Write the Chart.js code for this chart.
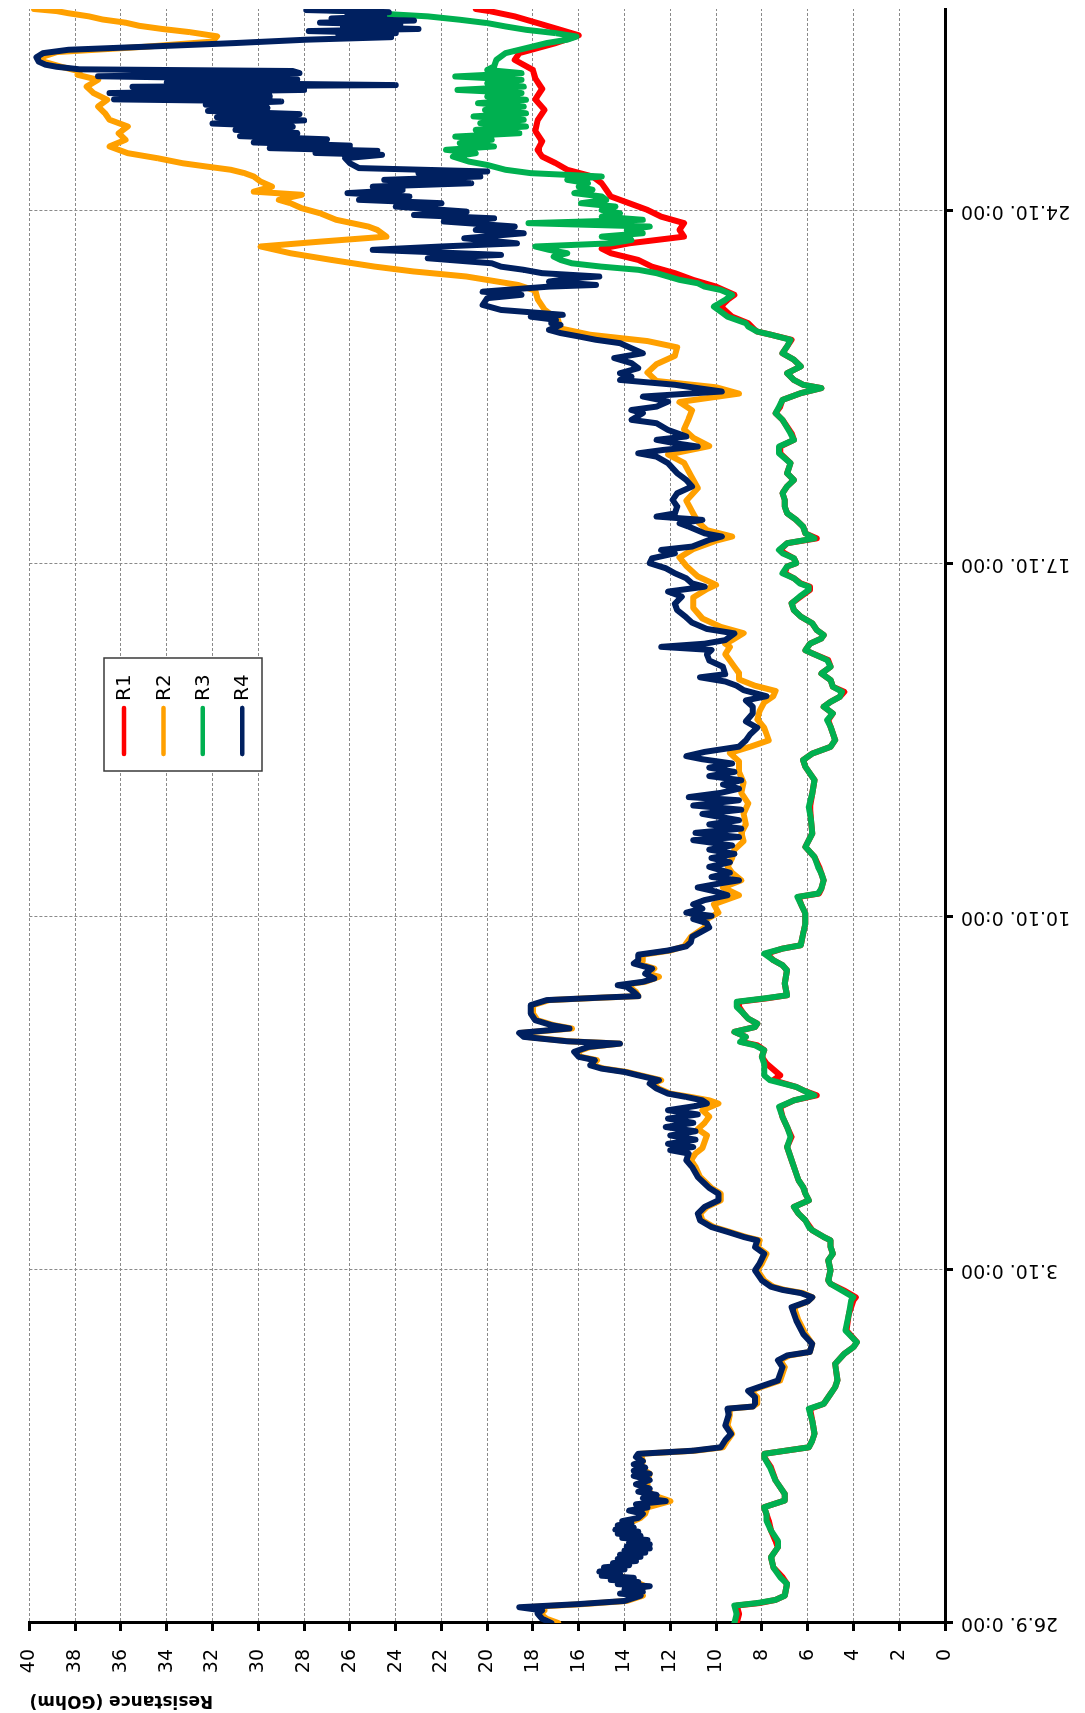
<!DOCTYPE html>
<html>
<head>
<meta charset="utf-8">
<title>Resistance R1–R4</title>
<script src="https://cdn.jsdelivr.net/npm/chart.js@4.4.1/dist/chart.umd.min.js"></script>
<style>
  html, body { margin: 0; padding: 0; background: #fff; overflow: hidden; width: 1085px; height: 1713px; }
  /* the chart is laid out landscape and turned a quarter turn counter-clockwise */
  #frame { position: absolute; left: 0; top: 0; width: 1713px; height: 1085px;
           transform-origin: 0 0; transform: translate(0px, 1713px) rotate(-90deg); }
  canvas { display: block; }
</style>
</head>
<body>
<div id="frame"><canvas id="chart" width="1713" height="1085" style="width:1713px;height:1085px"></canvas></div>
<script>
// Time axis: hours since 26.9. 0:00
const TICK_HOURS  = [0, 168, 336, 504, 672];
const TICK_LABELS = ['26.9. 0:00', '3.10. 0:00', '10.10. 0:00', '17.10. 0:00', '24.10. 0:00'];
const SERIES_NAMES = ['R1', 'R2', 'R3', 'R4'];
const SERIES_COLORS = ['#ff0000', '#ffa000', '#00b050', '#002060'];

// [hour, resistance in GOhm]
const R1 = [
  [0,9.1],[4.3,9.0],[8.3,9.1],[9.5,8.1],[11,7.4],[13,7.0],[18.6,6.9],[21.8,7.1],[26.5,7.5],[31.3,7.6],[36,7.3],[39,7.4],[44,7.6],[48.7,7.7],[51.9,7.8],[55.1,7.9],[58.3,7.0],[61.4,7.0],[67.8,7.4],[74.1,7.6],[78.9,7.9],[80.5,7.9],[83.6,5.95],[86.8,5.8],[90,5.7],[96.3,5.8],[101.9,5.9],[104.3,5.3],[109,5.0],[112.2,4.8],[115.4,4.7],[123.3,4.8],[128.1,4.4],[131.3,4.0],[133.6,3.85],[139.2,4.3],[147.1,4.2],[153.5,4.0],[155,3.9],[158.2,4.4],[161.4,5.0],[163,5.1],
  [167.8,5.0],[172.6,5.1],[175.7,4.9],[178.9,5.0],[182.1,5.0],[183.7,5.3],[186.9,5.8],[188.4,5.9],[191.6,6.1],[194.8,6.4],[198,6.6],[201.1,5.95],[204.3,6.1],[207.5,6.2],[210.7,6.4],[213.8,6.5],[220.2,6.7],[226.5,6.9],[231.3,6.7],[236.1,6.9],[240.8,7.1],[245.6,7.2],[248.7,6.6],[251.1,5.6],[253.5,6.2],[255.1,6.5],[258.3,7.5],[260.6,7.2],[266.2,7.8],[269.4,8.0],[272.6,7.9],[274.9,8.2],[276.5,8.9],[278.9,8.7],[281.3,9.2],[283.6,8.3],[285.2,8.2],[287.6,8.6],[290,8.8],[293.2,9.0],[295.6,9.0],[297.2,7.8],[298.7,6.9],[304.3,7.0],[310.6,6.9],[313,7.1],[315.4,7.5],
  [318.5,7.8],[320.9,7.1],[322.5,6.3],[328,6.2],[332.8,6.1],[337.6,6.1],[342.3,6.3],[345.5,6.4],[347.1,5.5],[349.5,5.4],[353.4,5.3],[356.6,5.4],[359.8,5.5],[364.5,5.7],[369.3,6.1],[375.7,5.8],[382,5.85],[388.4,5.9],[394.7,5.8],[401.1,5.7],[407.4,6.1],[410.6,6.2],[413.7,5.8],[416.9,5.0],[420.1,4.8],[423.3,4.9],[426.4,5.0],[429.6,5.1],[432.8,4.9],[436,5.3],[438.3,5.0],[440.7,4.6],[443.1,4.4],[445.5,4.9],[448.7,5.0],[451.8,5.4],[455,5.0],[458.2,5.1],[461.4,5.8],[462.9,6.1],[466,5.9],
  [468.5,5.4],[470.1,5.3],[472.5,5.6],[475.7,5.8],[478.9,6.3],[482,6.6],[485.2,6.7],[488.4,6.3],[491.6,5.9],[493.1,5.9],[494.7,6.3],[497.1,6.6],[499.5,7.0],[502.7,6.9],[504.3,6.5],[506.6,6.6],[509,7.0],[510.6,7.2],[513.8,6.9],[516.1,5.6],[518.5,6.1],[521.7,6.2],[524.9,6.5],[528.1,6.9],[531.2,7.0],[534.4,7.0],[537.6,7.1],[540.8,6.9],[543.9,6.6],[547.1,6.9],[551.9,6.75],[556.6,7.2],[559.8,7.2],[563,6.6],[566.1,6.7],[572.5,7.1],[575.7,7.4],[578.8,7.2],[582,7.1],[585.2,6.3],[587.6,5.4],[589.2,6.2],[591.5,6.6],[594.7,6.9],[597.9,6.3],[601.1,6.6],[604.2,7.1],[607.4,6.9],[610.6,6.7],[613,7.6],[614.5,8.2],
  [615.3,8.3],[618.5,8.6],[621.6,9.3],[626.4,9.8],[629.6,9.5],[632,9.2],[635.9,10.0],[639.1,11.0],[642.3,11.8],[645.4,12.8],[648.6,13.4],[651.8,14.6],[654,15.0],[656.5,13.8],[659.7,11.4],[662.9,11.6],[666.1,11.4],[669.2,12.4],[672.4,13.0],[675.6,13.8],[678.8,14.6],[682,14.8],[685.1,15.0],[688.3,15.4],[691.5,16.5],[694.6,17.0],[697.8,17.6],[701,17.8],[705,17.6],[710,17.9],[715,17.8],[720,17.5],[725,17.9],[730,17.6],[735,17.9],[739,18.0],[743.8,18.8],[747,18.6],[751.8,17.0],[755.5,16.0],[758.1,16.8],[761.3,17.8],[764.5,18.8],[767,19.9],[768,20.5]
];

const R2 = [
  [0,16.9],[2,17.4],[4.5,17.7],[6,17.5],[7.5,18.3],[9,15.8],[10.5,13.9],[13,13.2],[15,13.4],[17.5,13.1],[20,13.6],[22.5,14.2],[25,14.3],[27.5,14.0],[30,13.8],[32.5,13.6],[35,13.3],[37.5,13.2],[40,13.4],[42.5,13.7],[45,13.8],[47.5,13.8],[50,13.3],[52,13.1],[55,13.0],[58,12.0],[61,12.8],[64,13.0],[68,13.0],[71,12.9],[74,13.3],[77,13.2],[80.5,13.3],[82,10.9],[83.6,9.7],[87,9.5],[90,9.3],[94,9.5],[99,9.4],[102,9.4],[103,8.4],[104.5,8.2],[107.5,8.2],[110.5,8.5],[112,8.1],[115.4,7.2],[121.7,7.0],[125,7.2],[127.3,6.8],[129,5.9],[132.8,5.8],[137.6,6.1],[144,6.4],[150.3,6.6],[153,6.0],[155,5.8],[157,6.2],[158.5,7.0],[160,7.5],[163,7.9],
  [167.8,8.2],[171,8.0],[175.7,7.8],[178.9,8.2],[182.1,8.1],[183.7,8.7],[186.1,9.4],[188.4,10.1],[191.6,10.6],[194.8,10.7],[198,10.4],[201.1,9.8],[204.3,9.8],[207,10.2],[209.1,10.4],[212.2,10.7],[217,10.9],[220.2,11.1],[223.4,10.9],[226,10.6],[229,10.5],[232,10.4],[235,10.8],[238,10.5],[241,10.3],[244,10.6],[247.2,9.9],[248.7,10.3],[250.3,11.1],[251.9,12.0],[254.3,12.5],[256.7,12.8],[258.3,12.4],[260.6,13.3],[262.2,13.9],[263.8,14.9],[265.4,15.4],[267.8,15.2],[269.4,15.9],[271.8,16.1],[274.1,15.5],[275.7,14.2],[276.8,16.4],[278.9,18.3],[280.8,18.5],[282.9,16.3],[284.5,17.1],[286.8,17.8],[290,18.0],[294,18.0],[296.4,17.3],[297.6,14.9],[298.3,13.4],[300.3,13.5],[302.7,13.8],[303.5,14.1],[305.1,13.1],[307.5,12.5],[309,13.0],[311.4,12.7],[313.8,13.4],
  [315.4,13.2],[318,13.2],[320,12.0],[322,11.4],[326.5,11.1],[331,10.5],[335,10.4],[338,9.9],[342,10.1],[346.3,9.0],[350,9.7],[353.4,8.9],[357,9.3],[360,9.5],[364,9.3],[368,9.2],[372,8.8],[376,8.9],[380,8.7],[385,8.8],[390,8.6],[395,8.9],[400,8.8],[405,9.0],[410,9.0],[414,9.4],[417,8.5],[420,7.7],[423,7.8],[426,7.9],[430,8.2],[434,8.1],[438,7.9],[441,7.5],[443.5,7.4],[446,8.3],[449,9.0],[452,9.0],[455,9.2],[458,9.4],[461,9.6],[464.5,9.4],[466,9.6],
  [467.7,9.3],[471,8.8],[474,9.8],[478,10.6],[483,11.0],[488,11.0],[492,10.4],[494,10.0],[498,10.8],[503,11.3],[507,11.6],[511,11.0],[515,10.0],[517,9.3],[520,10.4],[524,10.8],[528,11.0],[534,11.3],[540,10.8],[546,11.1],[552,11.4],[556,12.1],[560,10.3],[564,11.0],[568,11.4],[573,11.2],[577,11.05],[581,11.6],[585,9.0],[588,10.0],[591,12.6],[595,13.0],[599,12.6],[603,11.8],[607,11.7],[610,13.0],[613,15.5],[616,16.8],
  [620,16.9],[625,17.5],[630,17.8],[634,17.9],[636.7,18.65],[640.7,20.9],[643.1,23.2],[645.4,24.9],[648.6,26.8],[651.8,28.6],[655,29.9],[657.3,27.3],[659.7,24.4],[662.9,24.8],[664.5,25.2],[667.7,26.6],[670.8,27.3],[673.2,28.1],[675.6,28.6],[677.2,29.1],[679.6,28.1],[681.1,30.2],[683.5,29.4],[685.9,29.9],[688.3,30.2],[689.9,30.6],[691.5,31.2],[693.1,32.3],[694.6,33.3],[697,34.4],[699.4,35.7],[702.6,36.5],[705.8,35.8],[708.9,36.1],[712.1,35.7],[715.3,36.5],[718.4,36.7],[721.6,37.0],[724.8,36.6],[728,37.2],[731.1,37.5],[734.3,37.0],[736.7,37.9],[738.3,37.8],[740.5,38.6],[743,39.4],[745,39.5],[747.5,38.8],[750,35.0],[752.5,32.0],[755,31.8],[757,33.0],[758.5,34.2],[760,35.2],[761.5,35.8],[763,36.8],[764.5,37.4],[766,38.3],[767,38.8],[768,39.8]
];

const R3 = [
  [0,9.2],[4.3,9.1],[8.3,9.2],[9.5,8.2],[11,7.4],[13,7.0],[18.6,6.9],[21.8,7.2],[26.5,7.5],[31.3,7.6],[36,7.3],[39,7.3],[44,7.6],[48.7,7.8],[51.9,7.8],[55.1,7.9],[58.3,7.0],[61.4,7.0],[67.8,7.4],[74.1,7.65],[78.9,7.9],[80.5,7.9],[83.6,5.95],[86.8,5.8],[90,5.7],[96.3,5.8],[101.9,5.95],[104.3,5.3],[109,5.0],[112.2,4.8],[115.4,4.7],[123.3,4.8],[128.1,4.4],[131.3,4.0],[133.6,3.85],[139.2,4.35],[147.1,4.2],[153.5,4.1],[155,4.0],[158.2,4.5],[161.4,5.0],[163,5.1],
  [167.8,5.0],[172.6,5.1],[175.7,4.9],[178.9,5.0],[182.1,5.0],[183.7,5.3],[186.9,5.8],[188.4,5.95],[191.6,6.1],[194.8,6.4],[198,6.6],[201.1,5.95],[204.3,6.1],[207.5,6.2],[210.7,6.4],[213.8,6.5],[220.2,6.7],[226.5,6.9],[231.3,6.75],[236.1,6.9],[240.8,7.1],[245.6,7.25],[248.7,6.6],[251.1,5.7],[253.5,6.2],[255.1,6.5],[258.3,7.65],[260.6,7.9],[266.2,7.9],[269.4,8.0],[272.6,7.9],[274.9,8.3],[276.5,8.95],[278.9,8.7],[281.3,9.2],[283.6,8.3],[285.2,8.2],[287.6,8.6],[290,8.8],[293.2,9.1],[295.6,9.1],[297.2,7.9],[298.7,6.9],[304.3,7.0],[310.6,6.9],[313,7.1],[315.4,7.5],
  [318.5,7.9],[320.9,7.1],[322.5,6.3],[328,6.2],[332.8,6.1],[337.6,6.1],[342.3,6.3],[345.5,6.45],[347.1,5.55],[349.5,5.4],[353.4,5.3],[356.6,5.4],[359.8,5.55],[364.5,5.7],[369.3,6.1],[375.7,5.8],[382,5.85],[388.4,5.95],[394.7,5.8],[401.1,5.7],[407.4,6.1],[410.6,6.2],[413.7,5.8],[416.9,5.0],[420.1,4.8],[423.3,4.9],[426.4,5.0],[429.6,5.15],[432.8,4.9],[436,5.3],[438.3,5.0],[440.7,4.6],[443.1,4.5],[445.5,4.9],[448.7,5.0],[451.8,5.4],[455,5.0],[458.2,5.15],[461.4,5.8],[462.9,6.1],[466,5.9],
  [468.5,5.4],[470.1,5.3],[472.5,5.6],[475.7,5.8],[478.9,6.3],[482,6.6],[485.2,6.7],[488.4,6.35],[491.6,5.95],[493.1,5.95],[494.7,6.35],[497.1,6.6],[499.5,7.1],[502.7,6.9],[504.3,6.5],[506.6,6.6],[509,7.1],[510.6,7.25],[513.8,6.9],[516.1,5.7],[518.5,6.1],[521.7,6.2],[524.9,6.5],[528.1,6.9],[531.2,7.0],[534.4,7.0],[537.6,7.1],[540.8,6.9],[543.9,6.6],[547.1,6.9],[551.9,6.75],[556.6,7.25],[559.8,7.25],[563,6.6],[566.1,6.75],[572.5,7.1],[575.7,7.4],[578.8,7.25],[582,7.1],[585.2,6.3],[587.6,5.4],[589.2,6.2],[591.5,6.6],[594.7,6.9],[597.9,6.3],[601.1,6.6],[604.2,7.1],[607.4,6.9],[610.6,6.75],[613,7.6],[614.5,8.2],
  [616.9,8.6],[618.5,8.7],[621.6,9.5],[624,9.8],[626.4,10.1],[629.6,9.6],[632,9.3],[634.3,9.8],[635.9,10.5],[637.5,10.8],[639.1,11.6],[640.7,12.1],[642.3,12.6],[643.9,13.4],[645.4,15.0],[647,16.3],[648.6,16.8],[650.2,17.1],[651.8,16.5],[653.4,17.3],[655,17.9],[656.5,14.6],[658.1,13.7],[659.7,15.0],[661.3,13.2],[662.9,13.9],[664.5,12.9],[666.1,18.2],[667.7,13.2],[669.2,15.0],[670.8,14.2],[672.4,15.0],[674,14.4],[675.6,15.9],[677.2,14.8],[678.8,15.0],[680.4,16.2],[682,15.4],[683.5,16.0],[685.1,15.6],[686.7,16.5],[688.3,15.0],[689.9,18.1],[691.5,19.2],[693.8,20.0],[695.4,20.8],[697.8,21.5],[699.4,20.5],[701,21.8],[702.6,19.7],[704.2,21.2],[705.8,19.8],[707.3,21.4],[708.9,18.6],[710.5,20.5],[712.1,18.3],[713.7,20.3],[715.3,18.4],[716.9,20.6],[718.4,18.3],[720,20.1],[721.6,18.4],[723.2,20.4],[724.8,18.3],[726.4,20.0],[728,18.5],[729.5,21.3],[731.1,18.4],[732.7,20.0],[734.3,18.5],[735.9,21.4],[737.5,18.5],[739,20.0],[740.7,19.7],[743.8,19.6],[747,19.2],[749.4,18.3],[751.8,17.4],[753.4,16.5],[754.9,16.1],[756.5,17.0],[758.1,18.3],[759.7,19.2],[761.3,20.0],[762.9,21.2],[764.5,22.6],[765.3,23.9],[766.9,26.0],[768,27.8]
];

const R4 = [
  [0,17.2],[2,17.6],[4.5,17.8],[6,17.6],[7.5,18.6],[9,16.0],[10.5,14.0],[13,13.3],[14,14.2],[15,13.2],[16,14.0],[17.5,12.9],[18.5,14.3],[19.5,13.4],[20.5,14.6],[21.5,13.6],[22.5,15.0],[23.5,14.2],[24.5,15.1],[25.5,14.0],[26.5,14.9],[27.5,13.8],[28.5,14.5],[29.5,13.5],[30.5,14.3],[31.5,13.3],[32.5,14.2],[33.5,13.1],[34.5,14.0],[35.5,12.9],[36.5,13.9],[37.5,12.9],[38.5,13.8],[39.5,13.0],[40.5,14.1],[41.5,13.3],[42.5,14.3],[43.5,13.4],[44.5,14.4],[45.5,13.6],[46.5,14.3],[47.5,13.7],[48.5,14.1],[50,13.4],[52,13.2],[53.5,13.8],[55,13.0],[56.5,13.5],[58,12.2],[59.5,13.2],[61,12.6],[62.5,13.4],[64,12.9],[66,13.5],[68,12.9],[70,13.6],[71,12.9],[72.5,13.6],[74,13.1],[75.5,13.6],[77,13.2],[79,13.5],[80.5,13.4],[82,11.0],[83.6,9.8],[87,9.6],[90,9.35],[94,9.6],[99,9.45],[102,9.5],[103,8.4],[104.5,8.3],[107.5,8.3],[110.5,8.6],[112,8.2],[115.4,7.3],[121.7,7.1],[125,7.3],[127.3,6.9],[129,5.9],[132.8,5.8],[137.6,6.2],[144,6.5],[150.3,6.7],[153,6.0],[155,5.8],[157,6.3],[158.5,7.1],[160,7.6],[163,8.0],
  [167.8,8.3],[171,8.1],[175.7,7.9],[178.9,8.3],[182.1,8.2],[183.7,8.8],[186.1,9.5],[188.4,10.2],[191.6,10.7],[194.8,10.8],[198,10.5],[201.1,9.9],[204.3,9.9],[207,10.3],[209.1,10.5],[212.2,10.8],[217,11.05],[220.2,11.3],[223.4,11.2],[225,12.0],[226.5,11.0],[228,12.1],[230,10.9],[232,12.0],[234,10.9],[236,12.2],[238,11.0],[240,12.1],[242,10.8],[244,12.1],[246,10.9],[247.2,10.4],[248.7,10.6],[250.3,11.3],[251.9,12.1],[254.3,12.6],[256.7,12.9],[258.3,12.5],[260.6,13.4],[262.2,14.0],[263.8,15.0],[265.4,15.5],[267.8,15.3],[269.4,16.0],[271.8,16.2],[274.1,15.6],[275.7,14.2],[276.8,16.5],[278.9,18.4],[280.8,18.6],[282.9,16.4],[284.5,17.2],[286.8,17.9],[290,18.1],[294,18.1],[296.4,17.4],[297.6,15.0],[298.3,13.4],[300.3,13.6],[302.7,13.9],[303.5,14.3],[305.1,13.2],[306.7,12.7],[309,13.1],[311.4,12.8],[313.8,13.6],
  [315.4,13.4],[318,13.4],[320,12.1],[322,11.3],[324,11.1],[326.5,11.05],[328,10.8],[331,10.3],[333,10.4],[335,11.0],[336.5,10.2],[338,11.3],[340,10.6],[342,11.0],[344,10.5],[346.3,9.5],[348,10.0],[350,10.8],[352,9.8],[353.4,9.0],[355,10.2],[357,9.4],[359.8,10.3],[362,9.4],[364,10.2],[366,9.2],[368,10.3],[370,9.3],[372.5,11.0],[374,9.0],[376,10.9],[378,8.9],[380,10.3],[382,9.0],[385,10.6],[387,8.9],[389,11.0],[391.5,9.0],[393,11.2],[395,9.8],[397,9.0],[399,9.7],[401,8.9],[403,10.3],[405,9.2],[407,10.3],[409,9.3],[411,10.6],[412.5,11.3],[414.5,10.5],[417,9.0],[420,8.7],[423,8.5],[426,8.2],[429,8.7],[432.8,8.4],[436,8.4],[439,8.7],[441,7.8],[443.9,8.8],[446,9.1],[448,9.6],[450,10.7],[451.5,9.6],[455,9.7],[458,10.3],[461,10.4],[463,10.2],[464.5,12.4],[466,10.5],
  [467.7,9.6],[470.9,9.2],[473,10.4],[476,11.05],[478.5,11.3],[482,11.7],[485,11.8],[488.4,11.5],[490.8,12.1],[493.1,10.5],[494.7,11.05],[497.1,11.3],[499.5,11.8],[501.9,12.2],[504.3,12.9],[506.6,12.8],[509,11.8],[510.6,12.4],[512.2,11.05],[515.4,10.3],[517,9.75],[518.5,10.5],[521.7,11.2],[523.3,11.6],[524.9,10.6],[526.5,12.6],[528,11.8],[531.2,11.7],[534.4,11.9],[537.6,11.7],[540.8,11.05],[543.9,11.3],[547.1,11.7],[551.9,12.1],[555,12.6],[556.6,13.4],[558.2,12.3],[559.8,10.8],[561.4,11.8],[563,12.6],[564.6,11.3],[567.7,12.1],[570.9,12.6],[572.5,13.7],[575.7,13.2],[577.2,13.7],[578.8,12.6],[581.2,12.1],[583.6,13.2],[586,9.75],[587.6,10.8],[589.2,11.8],[591.5,14.2],[593.1,13.7],[594.7,14.2],[597.1,13.4],[599.5,13.7],[601.9,14.45],[604.2,13.2],[606.6,13.7],[609,14.2],[610.6,15.25],[612.2,16.0],[613.8,16.8],[615.3,17.3],[617.7,16.8],
  [618.5,17.2],[620.1,17.0],[621.6,18.1],[622.5,16.7],[624.8,19.4],[627.2,20.2],[630.4,20.0],[632,18.5],[633.5,20.2],[635,18.4],[635.9,17.3],[636.7,15.25],[638.3,17.3],[640,16.2],[640.7,15.1],[642.3,17.6],[643.9,18.4],[645.4,19.4],[647,19.8],[649.4,22.6],[651,19.4],[653.4,25.0],[655,22.0],[656.5,18.7],[658.9,21.0],[661.3,18.4],[662.9,20.5],[664.5,18.8],[666.9,21.9],[668.4,19.7],[670,23.2],[671.6,20.9],[674,24.0],[675.6,22.0],[677.2,25.6],[678.8,23.4],[680.4,26.1],[681.9,23.7],[683.5,25.0],[685.1,20.7],[686.7,24.5],[688.3,20.3],[689.9,23.0],[690.7,20.0],[692.3,25.6],[694.6,26.0],[697,26.2],[698.6,24.6],[699.5,27.5],[700.5,24.8],[701.8,29.5],[703,26.0],[704.5,30.2],[706,27.0],[707.5,30.8],[709,28.3],[710.5,31.0],[712,28.5],[713.5,32.0],[715,28.0],[716.5,31.8],[718,28.2],[719.5,32.2],[721,29.6],[722.5,32.3],[724,29.0],[725,36.3],[726.5,29.5],[728,36.5],[729.5,28.0],[731,35.5],[731.8,24.0],[733,34.0],[734.5,28.3],[736,37.0],[737.5,28.2],[738.5,28.5],[739.3,37.8],[740.5,38.8],[741.5,39.3],[743,39.6],[745,39.7],[747,39.4],[748.6,38.3],[750.2,34.6],[751.8,31.0],[753.4,27.9],[754.6,24.2],[755.5,26.5],[756.5,24.0],[757.5,27.8],[758.5,23.0],[759.5,26.3],[760.5,23.8],[761.5,27.3],[762.5,23.2],[763.5,26.8],[764.5,24.5],[765.5,26.1],[766.5,24.3],[767.5,27.9],[768,25.4]
];

const SERIES_POINTS = [R1, R2, R3, R4];
// later series are painted over earlier ones
const SERIES_ORDER = [4, 3, 2, 1];

const FONT = 'DejaVu Sans';

// Boxed legend placed inside the plot, one row per series
const legendBox = {
  id: 'legendBox',
  afterDraw(chart, args, o) {
    const ctx = chart.ctx;
    ctx.save();
    ctx.fillStyle = '#ffffff';
    ctx.fillRect(o.left, o.top, o.width, o.height);
    ctx.strokeStyle = '#3a3a3a';
    ctx.lineWidth = 1.5;
    ctx.strokeRect(o.left, o.top, o.width, o.height);
    ctx.font = o.fontSize + 'px "' + FONT + '"';
    ctx.textBaseline = 'middle';
    ctx.textAlign = 'left';
    chart.data.datasets.forEach((ds, i) => {
      const y = o.top + o.firstRow + i * o.rowGap;
      ctx.strokeStyle = ds.borderColor;
      ctx.lineWidth = o.symbolWidth;
      ctx.lineCap = 'round';
      ctx.beginPath();
      ctx.moveTo(o.left + o.lineStart, y);
      ctx.lineTo(o.left + o.lineStart + o.lineLength, y);
      ctx.stroke();
      ctx.fillStyle = '#000';
      ctx.fillText(ds.label, o.left + o.textStart, y + 1);
    });
    ctx.restore();
  }
};

const datasets = SERIES_NAMES.map((name, i) => ({
  label: name,
  data: SERIES_POINTS[i].map(p => ({ x: p[0], y: p[1] })),
  borderColor: SERIES_COLORS[i],
  backgroundColor: SERIES_COLORS[i],
  borderWidth: 6,
  borderJoinStyle: 'round',
  borderCapStyle: 'round',
  pointRadius: 0,
  tension: 0,
  fill: false,
  order: SERIES_ORDER[i]
}));

new Chart(document.getElementById('chart'), {
  type: 'line',
  data: { datasets },
  plugins: [legendBox],
  options: {
    responsive: false,
    animation: false,
    devicePixelRatio: 1,
    layout: { padding: { top: 21, right: 9, bottom: 0, left: 0 } },
    plugins: {
      legend: { display: false },
      tooltip: { enabled: false },
      legendBox: {
        left: 942, top: 104, width: 113, height: 158,
        firstRow: 20, rowGap: 39.4,
        lineStart: 17, lineLength: 46, textStart: 70,
        symbolWidth: 4.5, fontSize: 20
      }
    },
    scales: {
      x: {
        type: 'linear',
        min: 0,
        max: 768,
        afterBuildTicks: (scale) => { scale.ticks = TICK_HOURS.map(v => ({ value: v })); },
        afterFit: (scale) => { scale.height = 140; },
        ticks: {
          autoSkip: false,
          minRotation: 90,
          maxRotation: 90,
          padding: 8,
          color: '#000',
          font: { family: FONT, size: 19 },
          callback: (value, index) => TICK_LABELS[index]
        },
        grid: {
          color: '#8a8a8a',
          lineWidth: 1,
          tickLength: 8,
          tickWidth: 3,
          tickColor: '#000'
        },
        border: { display: true, color: '#000', width: 3, dash: [3, 2] }
      },
      y: {
        min: 0,
        max: 40,
        afterFit: (scale) => { scale.width = 90; },
        ticks: {
          stepSize: 2,
          padding: 18,
          color: '#000',
          font: { family: FONT, size: 19 }
        },
        grid: {
          color: '#8a8a8a',
          lineWidth: 1,
          tickLength: 8,
          tickWidth: 3,
          tickColor: '#000'
        },
        border: { display: true, color: '#000', width: 3, dash: [3, 2] },
        title: {
          display: true,
          text: 'Resistance (GOhm)',
          align: 'end',
          color: '#000',
          padding: { top: 2, bottom: 0 },
          font: { family: FONT, size: 17, weight: 'bold' }
        }
      }
    }
  }
});
</script>
</body>
</html>
